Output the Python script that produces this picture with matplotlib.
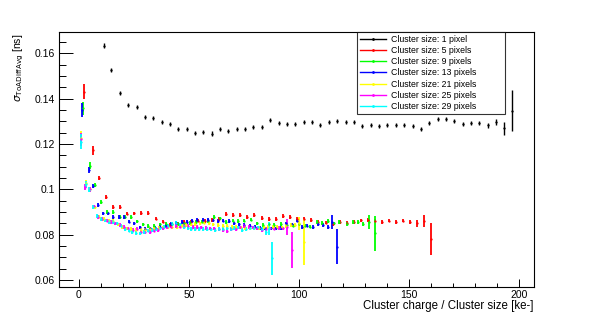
import matplotlib
matplotlib.use("Agg")
import matplotlib.pyplot as plt
from matplotlib.lines import Line2D
from matplotlib.ticker import MultipleLocator, FuncFormatter

plt.rcParams['font.family'] = ['Liberation Sans', 'DejaVu Sans']

# Cluster size: 1 pixel
x_1 = [11.6, 14.7, 18.6, 22.4, 26.3, 30.1, 33.7, 37.7, 41.4, 45.2, 49.0, 52.8, 56.6, 60.4, 64.1, 67.9,
       71.7, 75.5, 79.3, 83.1, 86.9, 90.7, 94.5, 98.3, 102.1, 105.9, 109.7, 113.5, 117.3, 121.1, 124.9,
       128.7, 132.5, 136.3, 140.1, 143.9, 147.7, 151.5, 155.3, 159.1, 162.9, 166.7, 170.5, 174.3, 178.1,
       181.9, 185.7, 189.5, 193.2, 196.5]
y_1 = [0.1634, 0.1528, 0.1426, 0.1373, 0.1364, 0.1320, 0.1313, 0.1297, 0.1289, 0.1264, 0.1265, 0.1247,
       0.1252, 0.1246, 0.1265, 0.1258, 0.1264, 0.1264, 0.1276, 0.1275, 0.1305, 0.1291, 0.1289, 0.1288,
       0.1297, 0.1297, 0.1284, 0.1297, 0.1303, 0.1298, 0.1295, 0.1279, 0.1285, 0.1279, 0.1284, 0.1284,
       0.1285, 0.1279, 0.1267, 0.1294, 0.1310, 0.1309, 0.1300, 0.1288, 0.1293, 0.1291, 0.1282, 0.1297,
       0.1269, 0.1347]
e_1 = [0.0009] * 46 + [0.0011, 0.0013, 0.0030, 0.0092]

# Cluster size: 5 pixels
x_5 = [2.5, 6.4, 9.2, 12.2, 15.4, 18.7, 21.8, 25.1, 28.3, 31.6, 35.0, 38.1, 41.4, 44.6, 47.8, 51.0, 54.2,
       57.4, 60.6, 63.8, 67.0, 70.2, 73.4, 76.5, 79.7, 83.0, 86.2, 89.4, 92.6, 95.9, 99.1, 102.3, 105.4,
       108.8, 112.1, 115.3, 118.6, 121.8, 125.0, 128.2, 131.5, 134.6, 137.6, 140.8, 144.1, 147.3, 150.4,
       153.6, 156.6, 159.8]
y_5 = [0.1430, 0.1173, 0.1049, 0.0965, 0.0921, 0.0923, 0.0893, 0.0894, 0.0896, 0.0895, 0.0871, 0.0858,
       0.0843, 0.0850, 0.0855, 0.0858, 0.0862, 0.0860, 0.0866, 0.0869, 0.0891, 0.0887, 0.0887, 0.0879,
       0.0887, 0.0875, 0.0869, 0.0869, 0.0882, 0.0879, 0.0870, 0.0868, 0.0865, 0.0857, 0.0853, 0.0845,
       0.0857, 0.0852, 0.0857, 0.0863, 0.0865, 0.0862, 0.0855, 0.0862, 0.0857, 0.0862, 0.0855, 0.0850,
       0.0860, 0.0780]
e_5 = [0.0033, 0.0020, 0.0010] + [0.0008] * 44 + [0.0015, 0.0027, 0.0071]

# Cluster size: 9 pixels
x_9 = [1.8, 5.1, 7.4, 10.0, 13.0, 15.4, 18.7, 21.0, 23.6, 26.6, 29.0, 31.6, 34.4, 37.1, 39.8, 42.5, 45.2,
       47.9, 50.6, 53.3, 56.0, 58.7, 61.6, 64.1, 66.9, 70.2, 72.5, 75.2, 78.2, 80.8, 83.5, 86.2, 88.6,
       91.7, 94.4, 97.1, 99.8, 102.5, 105.0, 108.0, 110.4, 113.0, 115.8, 118.3, 121.7, 124.4, 126.7,
       129.2, 131.9, 134.5]
y_9 = [0.1357, 0.1105, 0.1019, 0.0944, 0.0899, 0.0900, 0.0878, 0.0879, 0.0877, 0.0859, 0.0845, 0.0837,
       0.0840, 0.0845, 0.0848, 0.0847, 0.0847, 0.0850, 0.0852, 0.0855, 0.0858, 0.0860, 0.0877, 0.0872,
       0.0857, 0.0862, 0.0860, 0.0862, 0.0867, 0.0850, 0.0843, 0.0845, 0.0843, 0.0846, 0.0842, 0.0840,
       0.0845, 0.0840, 0.0836, 0.0857, 0.0852, 0.0860, 0.0850, 0.0855, 0.0847, 0.0857, 0.0855, 0.0846,
       0.0857, 0.0806]
e_9 = [0.0030, 0.0015, 0.0010] + [0.0008] * 45 + [0.0030, 0.0077]

# Cluster size: 13 pixels
x_13 = [1.4, 4.7, 6.4, 8.6, 10.9, 13.3, 15.7, 18.1, 20.5, 22.9, 25.2, 27.6, 30.0, 32.4, 34.8, 37.1, 39.5,
        41.9, 44.3, 46.7, 49.0, 51.4, 53.8, 56.2, 58.6, 60.9, 63.3, 65.7, 68.1, 70.5, 72.8, 75.2, 77.6,
        80.0, 82.4, 84.7, 87.1, 89.5, 91.9, 94.3, 96.6, 99.0, 101.4, 103.8, 106.2, 108.5, 110.9, 113.3,
        115.0, 117.4]
y_13 = [0.1350, 0.1085, 0.1015, 0.0931, 0.0894, 0.0894, 0.0877, 0.0877, 0.0877, 0.0858, 0.0850, 0.0832,
        0.0826, 0.0828, 0.0830, 0.0835, 0.0838, 0.0846, 0.0853, 0.0857, 0.0857, 0.0862, 0.0865, 0.0865,
        0.0865, 0.0863, 0.0860, 0.0862, 0.0860, 0.0850, 0.0845, 0.0842, 0.0840, 0.0836, 0.0830, 0.0828,
        0.0828, 0.0828, 0.0830, 0.0850, 0.0845, 0.0862, 0.0835, 0.0840, 0.0835, 0.0845, 0.0843, 0.0835,
        0.0855, 0.0747]
e_13 = [0.0030, 0.0015, 0.0010] + [0.0008] * 45 + [0.0030, 0.0077]

# Cluster size: 21 pixels
x_21 = [1.0, 3.3, 5.3, 7.4, 9.4, 11.5, 13.6, 15.7, 17.7, 19.8, 21.9, 23.9, 26.0, 28.1, 30.1, 32.2, 34.3,
        36.3, 38.4, 40.5, 42.5, 44.6, 46.7, 48.7, 50.8, 52.9, 54.9, 57.0, 59.1, 61.1, 63.2, 65.3, 67.3,
        69.4, 71.5, 73.5, 75.6, 77.7, 79.7, 81.8, 83.9, 85.9, 88.0, 90.1, 92.1, 94.2, 96.3, 98.1, 100.1,
        102.3]
y_21 = [0.1225, 0.1026, 0.1000, 0.0920, 0.0880, 0.0868, 0.0862, 0.0860, 0.0845, 0.0835, 0.0828, 0.0825,
        0.0822, 0.0821, 0.0822, 0.0825, 0.0828, 0.0830, 0.0832, 0.0835, 0.0835, 0.0835, 0.0840, 0.0843,
        0.0845, 0.0848, 0.0850, 0.0853, 0.0850, 0.0845, 0.0843, 0.0840, 0.0838, 0.0835, 0.0833, 0.0832,
        0.0830, 0.0828, 0.0828, 0.0830, 0.0832, 0.0835, 0.0835, 0.0833, 0.0832, 0.0838, 0.0843, 0.0843,
        0.0850, 0.0769]
e_21 = [0.0030, 0.0015, 0.0010] + [0.0008] * 45 + [0.0030, 0.0101]

# Cluster size: 25 pixels
x_25 = [1.0, 3.0, 5.0, 6.9, 8.9, 10.8, 12.8, 14.7, 16.7, 18.6, 20.6, 22.5, 24.5, 26.4, 28.4, 30.3, 32.3,
        34.2, 36.2, 38.1, 40.1, 42.0, 44.0, 45.9, 47.9, 49.8, 51.8, 53.7, 55.7, 57.6, 59.6, 61.5, 63.5,
        65.4, 67.4, 69.3, 71.3, 73.2, 75.2, 77.1, 79.1, 81.0, 83.0, 84.9, 86.9, 88.8, 90.8, 92.7, 94.7,
        96.7]
y_25 = [0.1220, 0.1010, 0.1000, 0.0925, 0.0878, 0.0868, 0.0862, 0.0857, 0.0850, 0.0843, 0.0835, 0.0828,
        0.0821, 0.0824, 0.0812, 0.0810, 0.0813, 0.0818, 0.0822, 0.0828, 0.0832, 0.0836, 0.0838, 0.0836,
        0.0838, 0.0838, 0.0835, 0.0835, 0.0832, 0.0830, 0.0828, 0.0828, 0.0825, 0.0821, 0.0817, 0.0824,
        0.0826, 0.0832, 0.0838, 0.0835, 0.0832, 0.0828, 0.0822, 0.0825, 0.0828, 0.0827, 0.0830, 0.0828,
        0.0835, 0.0732]
e_25 = [0.0030, 0.0015, 0.0010] + [0.0008] * 45 + [0.0035, 0.0080]

# Cluster size: 29 pixels
x_29 = [0.9, 3.3, 4.7, 6.6, 8.4, 10.2, 12.0, 13.8, 15.5, 17.3, 19.1, 20.9, 22.7, 24.4, 26.2, 28.0, 29.8,
        31.6, 33.3, 35.1, 36.9, 38.7, 40.5, 42.2, 44.0, 45.8, 47.6, 49.4, 51.1, 52.9, 54.7, 56.5, 58.3,
        60.0, 61.8, 63.6, 65.4, 67.2, 68.9, 70.7, 72.5, 74.3, 76.1, 77.8, 79.6, 81.4, 83.2, 85.0, 86.4,
        87.9]
y_29 = [0.1210, 0.1022, 0.0999, 0.0923, 0.0882, 0.0870, 0.0863, 0.0857, 0.0855, 0.0850, 0.0840, 0.0825,
        0.0818, 0.0813, 0.0808, 0.0806, 0.0812, 0.0818, 0.0821, 0.0824, 0.0828, 0.0833, 0.0840, 0.0848,
        0.0853, 0.0845, 0.0835, 0.0830, 0.0826, 0.0824, 0.0824, 0.0824, 0.0824, 0.0823, 0.0821, 0.0824,
        0.0826, 0.0828, 0.0824, 0.0830, 0.0832, 0.0821, 0.0825, 0.0828, 0.0830, 0.0832, 0.0825, 0.0813,
        0.0828, 0.0696]
e_29 = [0.0033, 0.0015, 0.0010] + [0.0008] * 44 + [0.0015, 0.0030, 0.0074]

series = [
    ("Cluster size: 1 pixel", x_1, y_1, e_1, "#000000"),
    ("Cluster size: 5 pixels", x_5, y_5, e_5, "#ff0000"),
    ("Cluster size: 9 pixels", x_9, y_9, e_9, "#00ff00"),
    ("Cluster size: 13 pixels", x_13, y_13, e_13, "#0000ff"),
    ("Cluster size: 21 pixels", x_21, y_21, e_21, "#ffff00"),
    ("Cluster size: 25 pixels", x_25, y_25, e_25, "#ff00ff"),
    ("Cluster size: 29 pixels", x_29, y_29, e_29, "#00ffff"),
]

fig = plt.figure(figsize=(5.93, 3.19), dpi=100)
ax = fig.add_axes([0.1, 0.1, 0.8, 0.8])

handles = []
for label, xs, ys, es, col in series:
    lw = 1.0 if col == "#000000" else 1.3
    ax.errorbar(xs, ys, yerr=es, fmt='.', color=col, ms=1.3, elinewidth=lw, capsize=0)
    handles.append(Line2D([0], [0], color=col, lw=1.0, marker='.', ms=2))

ax.set_xlim(-8.8, 206.5)
ax.set_ylim(0.0569, 0.1694)

ax.xaxis.set_major_locator(MultipleLocator(50))
ax.xaxis.set_minor_locator(MultipleLocator(10))
ax.yaxis.set_major_locator(MultipleLocator(0.02))
ax.yaxis.set_minor_locator(MultipleLocator(0.005))
ax.yaxis.set_major_formatter(FuncFormatter(lambda v, p: '%g' % round(v, 4)))

ax.tick_params(axis='both', which='both', direction='in', top=False, right=False,
               labelsize=7.5, width=0.7, color='black')
ax.tick_params(axis='x', which='major', length=5.5, pad=2)
ax.tick_params(axis='x', which='minor', length=2.8)
ax.tick_params(axis='y', which='major', length=10, pad=3)
ax.tick_params(axis='y', which='minor', length=5)
for sp in ax.spines.values():
    sp.set_linewidth(0.8)

fig.text(0.899, 0.042, "Cluster charge / Cluster size [ke-]", ha='right', va='center', fontsize=8.3)
fig.text(0.032, 0.895, r"$\sigma_{\mathrm{ToADiffAvg}}$ [ns]", rotation=90, ha='center', va='top', fontsize=7.5)

leg = ax.legend(handles, [s[0] for s in series], loc='upper left',
                bbox_to_anchor=(357 / 593, 1 - 111 / 319, 148 / 593, 79 / 319), bbox_transform=fig.transFigure,
                mode='expand', fontsize=6.3, frameon=True, fancybox=False, shadow=False,
                handlelength=3.0, handletextpad=0.6, labelspacing=0.26, borderpad=0.3,
                borderaxespad=0)
leg.get_frame().set_edgecolor('black')
leg.get_frame().set_linewidth(0.8)

fig.savefig("out.png", dpi=100)
